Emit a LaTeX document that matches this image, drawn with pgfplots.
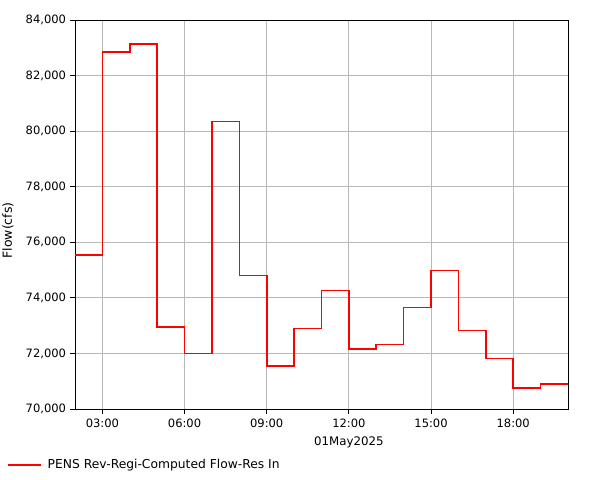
\documentclass[border=0pt]{standalone}
\usepackage{fontspec}
\setmainfont{DejaVu Sans}
\usepackage{pgfplots}
\pgfplotsset{compat=1.18}
\begin{document}
\fontsize{11.5bp}{13bp}\selectfont
\begin{tikzpicture}
\begin{axis}[
  at={(0,0)}, anchor=south west,
  scale only axis, width=493bp, height=389bp,
  xmin=2, xmax=20, ymin=70000, ymax=84000,
  xtick={3,6,9,12,15,18},
  xticklabels={03:00,06:00,09:00,12:00,15:00,18:00},
  ytick={70000,72000,74000,76000,78000,80000,82000,84000},
  yticklabels={70{,}000,72{,}000,74{,}000,76{,}000,78{,}000,80{,}000,82{,}000,84{,}000},
  scaled y ticks=false,
  /pgf/number format/assume math mode=true,
  tick label style={font=\fontsize{11.5bp}{13bp}\selectfont},
  xticklabel style={yshift=-1bp},
  xmajorgrids, ymajorgrids,
  grid style={draw=black!28, line width=0.8bp},
  axis line style={black, line width=0.9bp},
  tick style={black, line width=0.8bp},
  tick align=outside, major tick length=5bp,
  xtick pos=bottom, ytick pos=left,
  xlabel={01May2025},
  xlabel style={at={(axis cs:12,70000)}, anchor=north, yshift=-28bp, inner sep=0pt,
    font=\fontsize{11.8bp}{13bp}\selectfont},
  ylabel={Flow(cfs)},
  ylabel style={at={(rel axis cs:0,0.5)}, anchor=center, yshift=67bp, xshift=-16bp, inner sep=0pt,
    font=\fontsize{12.5bp}{14bp}\selectfont},
  legend style={at={(rel axis cs:0,0)}, anchor=west, xshift=-68bp, yshift=-56bp, draw=none, fill=none,
    font=\fontsize{12.3bp}{14bp}\selectfont, inner sep=0pt},
  legend image code/.code={\draw[#1, line width=2bp] (0bp,0bp) -- (33bp,0bp);},
  clip=false,
]
\addplot[red, line width=1.6bp, const plot mark left, mark=none] coordinates {
(2,75550) (3,82850) (4,83130) (5,72950) (6,72000) (7,80350) (8,74800)
(9,71550) (10,72900) (11,74270) (12,72150) (13,72320) (14,73650)
(15,74980) (16,72830) (17,71820) (18,70750) (19,70890) (20,70890)
};
\addlegendentry{\hspace{3.5bp}PENS Rev-Regi-Computed Flow-Res In}
\end{axis}
\useasboundingbox (-75bp,-71bp) rectangle (526bp,409bp);
\end{tikzpicture}
\end{document}
